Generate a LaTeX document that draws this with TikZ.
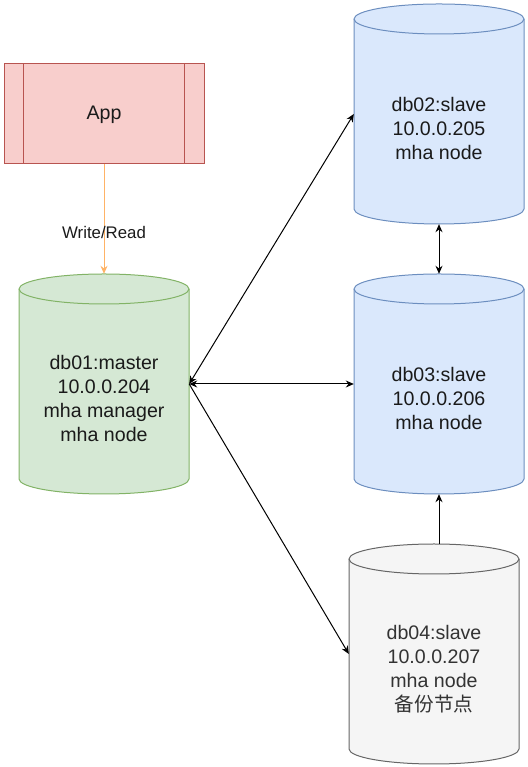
\documentclass[tikz,border=0pt]{standalone}
\usepackage{fontspec}
\setmainfont{Liberation Sans}
\newfontfamily\cjk{Noto Sans CJK SC}
\usetikzlibrary{arrows.meta}

\definecolor{appfill}{HTML}{F8CECC}
\definecolor{appline}{HTML}{B85450}
\definecolor{greenfill}{HTML}{D5E8D4}
\definecolor{greenline}{HTML}{82B366}
\definecolor{bluefill}{HTML}{DAE8FC}
\definecolor{blueline}{HTML}{6C8EBF}
\definecolor{greyfill}{HTML}{F5F5F5}
\definecolor{greyline}{HTML}{666666}
\definecolor{wrline}{HTML}{FFB366}
\definecolor{txt}{HTML}{1A1A1A}
\definecolor{greytxt}{HTML}{333333}

\tikzset{
    appbox/.style={rectangle, draw=appline, fill=appfill, line width=1pt, minimum width=200pt, minimum height=100pt, text depth=2pt, text=txt, font=\fontsize{19.6}{24}\selectfont},
    dbbox/.style={rectangle, inner sep=0pt, minimum width=170pt, minimum height=220pt},
    dbtext/.style={align=center, text=txt, yshift=-15pt, font=\fontsize{19.6}{24}\selectfont},
    link/.style={line width=1pt, black, {Stealth[length=8pt,width=7pt]}-{Stealth[length=8pt,width=7pt]}},
    onelink/.style={line width=1pt, black, -{Stealth[length=8pt,width=7pt]}}
}

\begin{document}
\begin{tikzpicture}[x=1pt, y=1pt]
        \useasboundingbox (0,0) rectangle (527,767);

        \coordinate (c1) at (104,383);
        \coordinate (c2) at (439,653);
        \coordinate (c3) at (439,383);
        \coordinate (c4) at (434,113);

        % cylinders
        \draw[greenline, fill=greenfill, line width=1pt] (c1) ++(-85,95) arc[start angle=180, end angle=0, x radius=85pt, y radius=15pt] --++ (0,-190) arc[start angle=0, end angle=-180, x radius=85pt, y radius=15pt] -- cycle;
        \draw[greenline, line width=1pt] (c1) ++(-85,95) arc[start angle=180, end angle=360, x radius=85pt, y radius=15pt];

        \draw[blueline, fill=bluefill, line width=1pt] (c2) ++(-85,95) arc[start angle=180, end angle=0, x radius=85pt, y radius=15pt] --++ (0,-190) arc[start angle=0, end angle=-180, x radius=85pt, y radius=15pt] -- cycle;
        \draw[blueline, line width=1pt] (c2) ++(-85,95) arc[start angle=180, end angle=360, x radius=85pt, y radius=15pt];

        \draw[blueline, fill=bluefill, line width=1pt] (c3) ++(-85,95) arc[start angle=180, end angle=0, x radius=85pt, y radius=15pt] --++ (0,-190) arc[start angle=0, end angle=-180, x radius=85pt, y radius=15pt] -- cycle;
        \draw[blueline, line width=1pt] (c3) ++(-85,95) arc[start angle=180, end angle=360, x radius=85pt, y radius=15pt];

        \draw[greyline, fill=greyfill, line width=1pt] (c4) ++(-85,95) arc[start angle=180, end angle=0, x radius=85pt, y radius=15pt] --++ (0,-190) arc[start angle=0, end angle=-180, x radius=85pt, y radius=15pt] -- cycle;
        \draw[greyline, line width=1pt] (c4) ++(-85,95) arc[start angle=180, end angle=360, x radius=85pt, y radius=15pt];

        \node[dbbox, label={[dbtext]center:{db01:master\\10.0.0.204\\mha manager\\mha node}}] (db01) at (c1) {};
        \node[dbbox, label={[dbtext]center:{db02:slave\\10.0.0.205\\mha node}}] (db02) at (c2) {};
        \node[dbbox, label={[dbtext]center:{db03:slave\\10.0.0.206\\mha node}}] (db03) at (c3) {};
        \node[dbbox, label={[dbtext, text=greytxt]center:{db04:slave\\10.0.0.207\\mha node\\{\cjk 备份节点}}}] (db04) at (c4) {};

        % app
        \node[appbox] (app) at (104,653) {App};
        \draw[appline, line width=1pt] ([xshift=20pt]app.north west) -- ([xshift=20pt]app.south west);
        \draw[appline, line width=1pt] ([xshift=-20pt]app.north east) -- ([xshift=-20pt]app.south east);

        \draw[wrline, line width=1pt, -{Stealth[length=8pt,width=7pt]}] (app.south) -- (db01.north);
        \node[text=txt, font=\fontsize{16.8}{20}\selectfont] (wr) at (104,534) {Write/Read};

        \draw[link] (db01.east) -- (db03.west);
        \draw[link] (db01.east) -- (db02.west);
        \draw[onelink] (db01.east) -- (db04.west);
        \draw[link] (db02.south) -- (db03.north);
        \draw[onelink] (db04.north -| db03.south) -- (db03.south);
    \end{tikzpicture}
\end{document}
